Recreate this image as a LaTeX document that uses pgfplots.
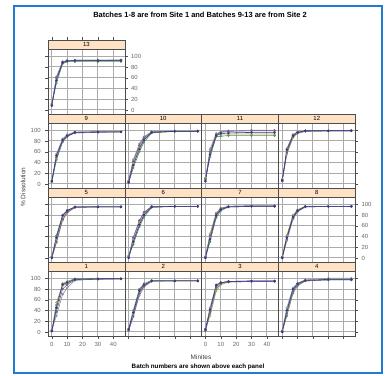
\documentclass[border=0pt]{standalone}
\usepackage{fontspec}
\setmainfont{Liberation Sans}
\usepackage{pgfplots}
\usepackage{pgfplotstable}
\pgfplotsset{compat=1.18}

\definecolor{stripc}{RGB}{255,226,196}
\definecolor{frameblue}{RGB}{30,125,210}
\definecolor{cA}{RGB}{50,55,135}
\definecolor{cB}{RGB}{125,85,160}
\definecolor{cC}{RGB}{85,145,90}
\definecolor{cD}{RGB}{140,150,150}
\definecolor{cE}{RGB}{175,170,80}

\newcommand\tickfont{\fontsize{6}{7}\selectfont}
\newcommand\stripfont{\fontsize{6}{7}\selectfont}

% dissolution profiles: minutes vs % dissolved, five tablets per batch
\pgfplotstableread{
t a b c d e
0 8 10 12 9 11
3 55 60 50 62 58
7 88 90 86 89 87
10 91 92 90 92 91
15 92 92 90 93 91
30 92 92 90 93 92
45 92 93 90 93 92
}\tabM
\pgfplotstableread{
t a b c d e
0 5 6 4 7 5
3 53 50 45 56 48
7 82 80 78 84 80
10 90 89 88 92 90
15 96 95 96 97 95
30 97 96 97 97 97
45 97 97 97 97 97
}\tabI
\pgfplotstableread{
t a b c d e
0 3 5 2 6 4
3 35 42 30 45 38
7 65 72 60 75 68
10 82 86 78 88 84
15 96 97 95 97 96
30 98 98 98 99 98
45 98 98 99 98 98
}\tabJ
\pgfplotstableread{
t a b c d e
0 5 8 10 6 12
3 55 60 50 65 58
7 90 92 88 94 91
10 94 96 89 97 93
15 95 98 90 99 93
30 96 99 90 100 93
45 96 99 90 100 93
}\tabK
\pgfplotstableread{
t a b c d e
0 7 5 8 6 9
3 64 58 60 66 55
7 90 88 91 92 86
10 96 95 96 97 94
15 99 98 99 99 98
30 99 99 99 99 99
45 99 99 100 99 99
}\tabL
\pgfplotstableread{
t a b c d e
0 0 2 1 3 0
3 38 30 42 35 28
7 79 72 80 76 70
10 88 85 89 87 84
15 95 94 95 95 94
30 95 95 95 96 95
45 95 95 95 96 95
}\tabE
\pgfplotstableread{
t a b c d e
0 0 2 4 1 3
3 30 38 25 35 28
7 62 70 58 68 64
10 80 85 76 84 82
15 95 96 94 96 95
30 96 96 96 96 96
45 96 96 96 96 96
}\tabF
\pgfplotstableread{
t a b c d e
0 0 2 1 3 0
3 35 42 30 38 45
7 79 82 75 80 84
10 90 92 88 91 93
15 95 96 95 96 96
30 96 97 96 97 97
45 96 97 96 97 97
}\tabG
\pgfplotstableread{
t a b c d e
0 0 2 1 0 3
3 38 35 40 32 42
7 76 74 78 72 80
10 88 87 89 86 90
15 96 95 96 95 96
30 96 96 96 96 96
45 96 96 96 96 96
}\tabH
\pgfplotstableread{
t a b c d e
0 2 3 1 4 2
3 45 38 50 30 55
7 88 80 90 70 86
10 92 88 94 82 90
15 98 97 99 96 98
30 99 98 99 99 99
45 99 99 99 99 99
}\tabA
\pgfplotstableread{
t a b c d e
0 5 3 6 2 4
3 36 30 40 28 34
7 77 72 80 68 75
10 88 85 90 84 87
15 95 95 96 94 95
30 95 95 96 95 95
45 95 95 96 95 95
}\tabB
\pgfplotstableread{
t a b c d e
0 5 3 2 6 4
3 42 38 35 45 30
7 87 84 80 88 76
10 92 91 90 92 88
15 94 94 93 94 93
30 95 94 94 95 94
45 95 94 94 95 94
}\tabC
\pgfplotstableread{
t a b c d e
0 0 2 1 3 0
3 40 35 30 45 38
7 80 76 72 82 78
10 90 88 86 91 89
15 96 95 95 97 96
30 98 97 97 100 98
45 98 97 97 100 98
}\tabD

\pgfplotsset{
  lat/.style={
    scale only axis, width=76.8bp, height=65bp,
    xmin=-2.5, xmax=47.5, ymin=-7.5, ymax=113.5,
    xtick={0,10,20,30,40}, ytick={0,20,40,60,80,100},
    grid=major, major grid style={black!33, line width=1pt},
    tick align=outside, major tick length=2.8bp,
    axis line style={black!70, line width=0.5pt},
    every tick/.style={black!70, line width=0.4pt},
    tick label style={font=\tickfont, text=black!60},
    /pgf/number format/assume math mode=true,
    xtick style={draw=none}, ytick style={draw=none},
    xticklabels={}, yticklabels={},
  },
  yl/.style={ytick pos=left, ytick style={draw=black!70},
    yticklabels={0,20,40,60,80,100}, yticklabel style={xshift=-1bp}},
  ylt/.style={ytick pos=left, ytick style={draw=black!70}},
  yr/.style={ytick pos=right, ytick style={draw=black!70},
    yticklabel pos=right, yticklabels={0,20,40,60,80,100}},
  yrt/.style={ytick pos=right, ytick style={draw=black!70}},
  xb/.style={xtick pos=bottom, xtick style={draw=black!70},
    xticklabels={0,10,20,30,40}},
  xbt/.style={xtick pos=bottom, xtick style={draw=black!70}},
  crv/.style={line width=0.6pt, mark=*, mark size=0.9pt},
}

\newcommand\batch[1]{%
  \addplot[crv, cE] table[x=t,y=e]{#1};
  \addplot[crv, cD] table[x=t,y=d]{#1};
  \addplot[crv, cC] table[x=t,y=c]{#1};
  \addplot[crv, cB] table[x=t,y=b]{#1};
  \addplot[crv, cA] table[x=t,y=a]{#1};
}

% one lattice panel: left, top, batch number, table, extra axis options
\newcommand\panel[5]{%
  \begin{axis}[lat, at={(#1bp,-#2bp)}, anchor=north west, #5]
    \batch{#4}
  \end{axis}
  \filldraw[fill=stripc, draw=black!70, line width=0.5pt]
    (#1bp,-#2bp) rectangle ++(76.8bp,9bp);
  \node[font=\stripfont, inner sep=0pt] at (#1bp+38.4bp,-#2bp+4.6bp) {#3};
}

\begin{document}
\begin{tikzpicture}
\path[use as bounding box] (0,0) rectangle (385bp,-376bp);
\fill[white] (0,0) rectangle (385bp,-376bp);

\panel{48}{49}{13}{\tabM}{ylt, yr, ytick pos=both}
% tick marks above the top strip
\foreach \k in {0,1,2,3,4}
  \draw[black!70, line width=0.4pt] (51.84bp+15.36*\k bp,-40bp) -- ++(0,2.8bp);

\panel{48}{123}{9}{\tabI}{yl}
\panel{124.8}{123}{10}{\tabJ}{}
\panel{201.6}{123}{11}{\tabK}{}
\panel{278.4}{123}{12}{\tabL}{yrt}

\panel{48}{197}{5}{\tabE}{ylt}
\panel{124.8}{197}{6}{\tabF}{}
\panel{201.6}{197}{7}{\tabG}{}
\panel{278.4}{197}{8}{\tabH}{yr}

\panel{48}{271}{1}{\tabA}{yl, xb}
\panel{124.8}{271}{2}{\tabB}{xbt}
\panel{201.6}{271}{3}{\tabC}{xb}
\panel{278.4}{271}{4}{\tabD}{yrt, xbt}

\node[font=\bfseries\fontsize{7.5}{9}\selectfont] at (200bp,-15bp)
  {Batches 1-8 are from Site 1 and Batches 9-13 are from Site 2};
\node[font=\fontsize{6.5}{7}\selectfont, text=black!75, rotate=90] at (23bp,-187bp)
  {\% Dissolution};
\node[font=\fontsize{6.5}{7}\selectfont, text=black!75] at (201bp,-357bp) {Minites};
\node[font=\bfseries\fontsize{6.3}{7}\selectfont] at (198bp,-367bp)
  {Batch numbers are shown above each panel};

\draw[frameblue, line width=1.6bp] (14bp,-6bp) rectangle (382bp,-373bp);
\end{tikzpicture}
\end{document}
